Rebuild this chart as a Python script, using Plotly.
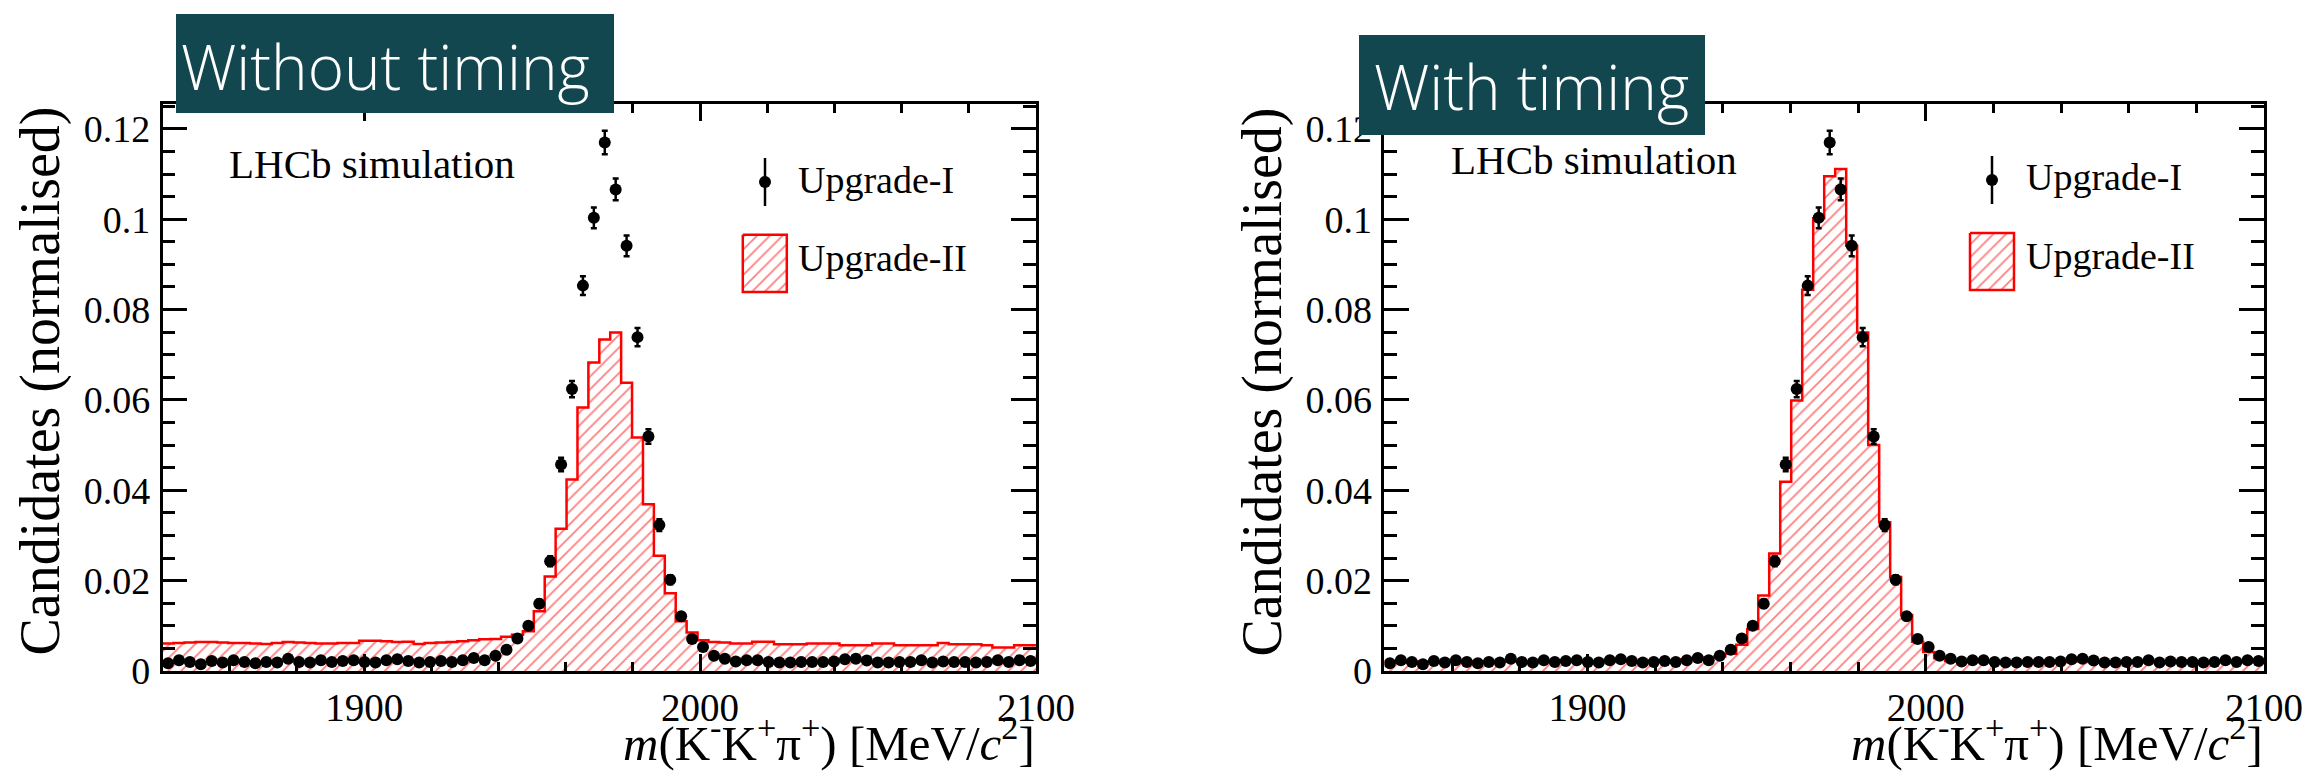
import plotly.graph_objects as go

W, H = 2313, 773

# ---------------- data ----------------
M_LO, M_HI, N_BINS = 1840.0, 2100.0, 80
BIN_W = (M_HI - M_LO) / N_BINS
bin_centers = [M_LO + BIN_W * (i + 0.5) for i in range(N_BINS)]
bin_edges = [M_LO + BIN_W * i for i in range(N_BINS + 1)]

upgrade1 = [
    0.0017, 0.0024, 0.0020, 0.0015, 0.0022, 0.0019, 0.0024, 0.0020, 0.0017, 0.0020,
    0.0019, 0.0027, 0.0020, 0.0019, 0.0024, 0.0020, 0.0022, 0.0024, 0.0020, 0.0019,
    0.0024, 0.0026, 0.0022, 0.0019, 0.0020, 0.0022, 0.0020, 0.0024, 0.0029,
    0.0024, 0.0034, 0.0047, 0.0072, 0.0100, 0.0149, 0.0243, 0.0457, 0.0624, 0.0853,
    0.1003, 0.1170, 0.1066, 0.0941, 0.0739, 0.0519, 0.0323, 0.0202, 0.0121, 0.0071,
    0.0053, 0.0034,
    0.0027, 0.0021, 0.0024, 0.0024, 0.0020, 0.0019, 0.0019, 0.0020, 0.0020, 0.0020,
    0.0021, 0.0026, 0.0027, 0.0023, 0.0019, 0.0019, 0.0020, 0.0020, 0.0024, 0.0019,
    0.0021, 0.0020, 0.0020, 0.0019, 0.0020, 0.0024, 0.0020, 0.0024, 0.0022,
]
upgrade1_err = [
    0.0003, 0.0003, 0.0003, 0.0003, 0.0003, 0.0003, 0.0003, 0.0003, 0.0003, 0.0003,
    0.0003, 0.0003, 0.0003, 0.0003, 0.0003, 0.0003, 0.0003, 0.0003, 0.0003, 0.0003,
    0.0003, 0.0003, 0.0003, 0.0003, 0.0003, 0.0003, 0.0003, 0.0003, 0.0003,
    0.0003, 0.0004, 0.0005, 0.0006, 0.0007, 0.0009, 0.0011, 0.0015, 0.0018, 0.0021,
    0.0023, 0.0026, 0.0024, 0.0023, 0.0020, 0.0016, 0.0013, 0.0010, 0.0008, 0.0006,
    0.0005, 0.0004,
    0.0003, 0.0003, 0.0003, 0.0003, 0.0003, 0.0003, 0.0003, 0.0003, 0.0003, 0.0003,
    0.0003, 0.0003, 0.0003, 0.0003, 0.0003, 0.0003, 0.0003, 0.0003, 0.0003, 0.0003,
    0.0003, 0.0003, 0.0003, 0.0003, 0.0003, 0.0003, 0.0003, 0.0003, 0.0003,
]
upgrade2_no_timing = [
    0.0061, 0.0062, 0.0063, 0.0064, 0.0064, 0.0063, 0.0062, 0.0062, 0.0061, 0.0060,
    0.0062, 0.0064, 0.0063, 0.0062, 0.0061, 0.0061, 0.0062, 0.0062, 0.0067, 0.0067,
    0.0066, 0.0064, 0.0065, 0.0060, 0.0062, 0.0063, 0.0064, 0.0066, 0.0068, 0.0070,
    0.0071, 0.0076, 0.0080, 0.0088,
    0.0132, 0.0209, 0.0315, 0.0424, 0.0583, 0.0683, 0.0734, 0.0749, 0.0638, 0.0517,
    0.0369, 0.0255, 0.0172, 0.0110, 0.0085, 0.0068, 0.0064,
    0.0063, 0.0061, 0.0061, 0.0065, 0.0065, 0.0059, 0.0059, 0.0059, 0.0061, 0.0061,
    0.0061, 0.0057, 0.0057, 0.0057, 0.0061, 0.0061, 0.0057, 0.0057, 0.0057, 0.0057,
    0.0062, 0.0059, 0.0059, 0.0059, 0.0057, 0.0052, 0.0052, 0.0057, 0.0057,
]
upgrade2_timing = [
    0.0021, 0.0022, 0.0020, 0.0021, 0.0020, 0.0021, 0.0022, 0.0021, 0.0020, 0.0021,
    0.0022, 0.0021, 0.0021, 0.0020, 0.0022, 0.0021, 0.0021, 0.0022, 0.0021, 0.0020,
    0.0021, 0.0022, 0.0022, 0.0021, 0.0022, 0.0023, 0.0024, 0.0026, 0.0028, 0.0030,
    0.0032, 0.0038, 0.0058, 0.0093, 0.0167, 0.0260, 0.0419, 0.0599, 0.0844, 0.1002,
    0.1095, 0.1111, 0.0941, 0.0749, 0.0500, 0.0329, 0.0208, 0.0124, 0.0065, 0.0042,
    0.0028,
    0.0022, 0.0021, 0.0020, 0.0020, 0.0021, 0.0020, 0.0020, 0.0019, 0.0020, 0.0020,
    0.0020, 0.0021, 0.0021, 0.0020, 0.0019, 0.0020, 0.0020, 0.0020, 0.0021, 0.0020,
    0.0020, 0.0019, 0.0020, 0.0020, 0.0020, 0.0020, 0.0021, 0.0020, 0.0021,
]

x_tickvals = [1900, 2000, 2100]
x_ticktext = ["1900", "2000", "2100"]
x_minor = [1860, 1880, 1920, 1940, 1960, 1980, 2020, 2040, 2060, 2080]
y_tickvals = [0, 0.02, 0.04, 0.06, 0.08, 0.10, 0.12]
y_ticktext = ["0", "0.02", "0.04", "0.06", "0.08", "0.1", "0.12"]
y_minor = [0.005, 0.01, 0.015, 0.025, 0.03, 0.035, 0.045, 0.05, 0.055, 0.065, 0.07,
           0.075, 0.085, 0.09, 0.095, 0.105, 0.11, 0.115, 0.125]
Y_MAX = 0.1255

panel_titles = ["Without timing", "With timing"]
series_names = ["Upgrade-I", "Upgrade-II"]

# ---------------- layout geometry (pixels) ----------------
panels = [
    dict(x0=162.6, x1=1036.0, y0=104.0, y1=671.0, hist=upgrade2_no_timing,
         box=(176, 614, 14, 113), title_x=179, title_cy=66,
         lhcb=(226.5, 164), leg_mk=(765, 182), leg_box=(742.8, 786.8, 234.7, 292),
         leg_tx=796, leg_ty=(179.5, 258), ytitle_x=40),
    dict(x0=1384.4, x1=2264.0, y0=104.0, y1=671.0, hist=upgrade2_timing,
         box=(1359, 1705, 35, 135), title_x=1372, title_cy=86,
         lhcb=(1448.7, 160), leg_mk=(1992, 180), leg_box=(1970, 2014, 233, 290),
         leg_tx=2024, leg_ty=(177.5, 256), ytitle_x=1262),
]

SERIF = "Liberation Serif"
RED = "#ff0000"
TEAL = "#13474f"


def px(x):
    return x / W


def py(y):
    return 1 - y / H


hatch = dict(shape="/", fgcolor=RED, bgcolor="rgba(0,0,0,0)", size=9,
             solidity=0.2, fillmode="overlay")

fig = go.Figure()
layout = dict(width=W, height=H, autosize=False, margin=dict(l=0, r=0, t=0, b=0, pad=0),
              paper_bgcolor="white", plot_bgcolor="rgba(0,0,0,0)",
              showlegend=False, shapes=[], annotations=[])

for k, p in enumerate(panels):
    xa = "x" if k == 0 else "x2"
    ya = "y" if k == 0 else "y2"
    xkey = "xaxis" if k == 0 else "xaxis2"
    ykey = "yaxis" if k == 0 else "yaxis2"

    fig.add_trace(go.Scatter(
        x=bin_edges, y=p["hist"] + [p["hist"][-1]], mode="lines", line_shape="hv",
        line=dict(color=RED, width=2.5), fill="tozeroy", fillcolor="rgba(0,0,0,0)",
        fillpattern=hatch, xaxis=xa, yaxis=ya, hoverinfo="skip"))
    fig.add_trace(go.Scatter(
        x=bin_centers, y=upgrade1, mode="markers",
        marker=dict(color="black", size=12),
        error_y=dict(type="data", array=upgrade1_err, color="black", thickness=2.5, width=3),
        xaxis=xa, yaxis=ya, hoverinfo="skip"))

    layout[xkey] = dict(
        domain=[px(p["x0"]), px(p["x1"])], range=[M_LO, M_HI], anchor=ya,
        tickmode="array", tickvals=x_tickvals, ticktext=x_ticktext,
        ticks="inside", ticklen=17, tickwidth=2.5, tickcolor="black",
        minor=dict(tickmode="array", tickvals=x_minor, ticks="inside", ticklen=9,
                   tickwidth=2.5, tickcolor="black"),
        showline=True, linewidth=2.5, linecolor="black", mirror="allticks",
        showgrid=False, zeroline=False, ticklabelstandoff=0, automargin=False,
        tickfont=dict(family=SERIF, size=39, color="black"), fixedrange=True)
    layout[ykey] = dict(
        domain=[py(p["y1"]), py(p["y0"])], range=[0, Y_MAX], anchor=xa,
        tickmode="array", tickvals=y_tickvals, ticktext=y_ticktext,
        ticks="inside", ticklen=25, tickwidth=2.5, tickcolor="black",
        minor=dict(tickmode="array", tickvals=y_minor, ticks="inside", ticklen=13,
                   tickwidth=2.5, tickcolor="black"),
        showline=True, linewidth=2.5, linecolor="black", mirror="allticks",
        showgrid=False, zeroline=False, ticklabelstandoff=2, automargin=False,
        tickfont=dict(family=SERIF, size=38, color="black"), fixedrange=True)

    # ---- legend (drawn in pixel overlay axes) ----
    mx, my = p["leg_mk"]
    fig.add_trace(go.Scatter(x=[mx, mx], y=[my - 24, my + 24], mode="lines",
                             line=dict(color="black", width=2.5),
                             xaxis="x3", yaxis="y3", hoverinfo="skip"))
    fig.add_trace(go.Scatter(x=[mx], y=[my], mode="markers",
                             marker=dict(color="black", size=12),
                             xaxis="x3", yaxis="y3", hoverinfo="skip"))
    bx0, bx1, by0, by1 = p["leg_box"]
    fig.add_trace(go.Scatter(x=[bx0, bx1, bx1, bx0, bx0], y=[by0, by0, by1, by1, by0],
                             mode="lines", fill="toself", fillcolor="rgba(0,0,0,0)",
                             fillpattern=hatch, line=dict(color=RED, width=2.5),
                             xaxis="x3", yaxis="y3", hoverinfo="skip"))
    for name, ty in zip(series_names, p["leg_ty"]):
        layout["annotations"].append(dict(
            text=name, x=px(p["leg_tx"]), y=py(ty), xref="paper", yref="paper",
            xanchor="left", yanchor="middle", showarrow=False,
            font=dict(family=SERIF, size=38, color="black")))

    # ---- LHCb label ----
    lx, ly = p["lhcb"]
    layout["annotations"].append(dict(
        text="LHCb simulation", x=px(lx), y=py(ly), xref="paper", yref="paper",
        xanchor="left", yanchor="middle", showarrow=False,
        font=dict(family=SERIF, size=41, color="black")))

    # ---- axis titles ----
    layout["annotations"].append(dict(
        text="<i>m</i>(K<sup>-</sup>K<sup>+</sup>\u03c0<sup>+</sup>) [MeV/<i>c</i><sup>2</sup>]",
        x=px(p["x1"]), y=py(772), xref="paper", yref="paper",
        xanchor="right", yanchor="bottom", showarrow=False, borderpad=0,
        font=dict(family=SERIF, size=49, color="black")))
    layout["annotations"].append(dict(
        text="Candidates (normalised)", textangle=-90,
        x=px(p["ytitle_x"]), y=py(p["y0"] + 1), xref="paper", yref="paper",
        xanchor="center", yanchor="top", showarrow=False,
        font=dict(family=SERIF, size=56, color="black")))

    # ---- title box ----
    x0b, x1b, y0b, y1b = p["box"]
    layout["shapes"].append(dict(
        type="rect", xref="paper", yref="paper", x0=px(x0b), x1=px(x1b),
        y0=py(y1b), y1=py(y0b), fillcolor=TEAL, line=dict(width=0), layer="above"))
    layout["annotations"].append(dict(
        text=panel_titles[k], x=px(p["title_x"]), y=py(p["title_cy"]),
        xref="paper", yref="paper", xanchor="left", yanchor="middle",
        showarrow=False, font=dict(family="Open Sans", size=62, color="white", weight=300)))

layout["xaxis3"] = dict(domain=[0, 1], range=[0, W], anchor="y3", visible=False,
                        fixedrange=True)
layout["yaxis3"] = dict(domain=[0, 1], range=[H, 0], anchor="x3", visible=False,
                        fixedrange=True)

fig.update_layout(**layout)
fig.write_html(
    "out.html",
    config={"responsive": False, "displayModeBar": False},
    post_script="document.body.style.margin='0';document.body.style.padding='0';"
                "document.body.style.overflow='hidden';",
)
